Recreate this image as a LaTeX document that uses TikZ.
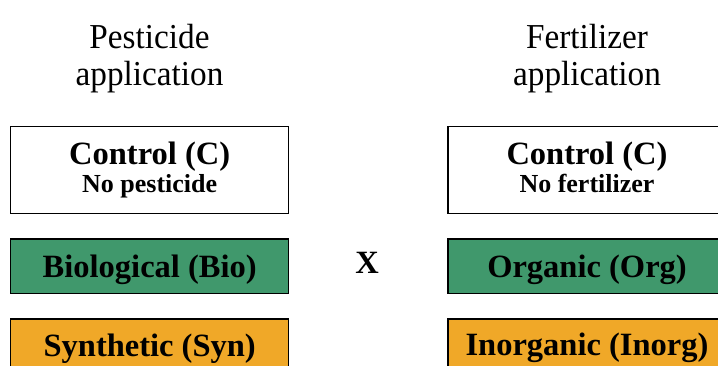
\documentclass[tikz,border=0pt]{standalone}
\usepackage{fontspec}
\setmainfont{Liberation Serif}
\definecolor{bioGreen}{HTML}{40986C}
\definecolor{synOrange}{HTML}{F0A828}
\begin{document}
\begin{tikzpicture}[x=1pt,y=-1pt,
  box/.style={draw=black, line width=1.2pt, rectangle, inner sep=0pt,
    minimum width=278pt},
  tall/.style={box, fill=white, minimum height=87pt},
  flat/.style={box, minimum height=54.7pt},
  title/.style={anchor=base, inner sep=0pt, xscale=0.95, font=\fontsize{35}{38}\selectfont},
  head/.style={anchor=base, inner sep=0pt, font=\fontsize{32.5}{36}\selectfont\bfseries},
  sub/.style={anchor=base, inner sep=0pt, font=\fontsize{26}{30}\selectfont\bfseries}]
\useasboundingbox (0,0) rectangle (718,366);
\clip (0,0) rectangle (718,366);

% column headings
\node[title] (pt1) at (149.5,49) {Pesticide};
\node[title] (pt2) at (149.5,86) {application};
\node[title] (ft1) at (587,49) {Fertilizer};
\node[title] (ft2) at (587,86) {application};

% pesticide treatments
\node[tall] (pc) at (149.7,170.2) {};
\node[head] (pcA) at (149.7,164.3) {Control (C)};
\node[sub]  (pcB) at (149.7,192.5) {No pesticide};
\node[flat, fill=bioGreen] (pb) at (149.7,266.3) {};
\node[head] (pbT) at (149.7,278) {Biological (Bio)};
\node[flat, fill=synOrange] (ps) at (149.7,346.3) {};
\node[head] (psT) at (149.7,356.5) {Synthetic (Syn)};

% crossing sign
\node[head] (cross) at (367,274) {X};

% fertilizer treatments
\node[tall] (fc) at (587,170.2) {};
\node[head] (fcA) at (587,164.3) {Control (C)};
\node[sub]  (fcB) at (587,192.5) {No fertilizer};
\node[flat, fill=bioGreen] (fo) at (587,266.3) {};
\node[head] (foT) at (587,278) {Organic (Org)};
\node[flat, fill=synOrange] (fi) at (587,346.3) {};
\node[head] (fiT) at (587,355.5) {Inorganic (Inorg)};
\end{tikzpicture}
\end{document}
